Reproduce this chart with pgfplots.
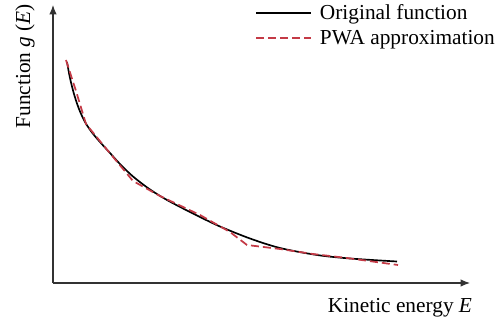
\documentclass[border=0pt]{standalone}
\usepackage{fontspec}
\setmainfont{Liberation Serif}
\usepackage{pgfplots}
\pgfplotsset{compat=1.18}
\usetikzlibrary{arrows.meta}
\definecolor{pwared}{RGB}{196,58,70}
\definecolor{axisgray}{RGB}{50,50,50}

% original function g(E), sampled
\pgfplotstableread{
x y
67 221
70 205
74 189
79 174
85 161
92 150.5
100 141
110 130
120 119
133 106.5
150 93.5
167 83
187 72.5
200 66
220 56.5
250 44.5
280 35
317 28
350 24.5
397 21.5
}\original

% piecewise approximation vertices
\pgfplotstableread{
x y
66 223
76 192
86 159
104 137
133 102
160 87
200 68
230 51
247 38
280 34
313 29
347 25
398 18
}\pwa

\begin{document}
\begin{tikzpicture}
\begin{axis}[
  scale only axis,
  width=312.75pt, height=208.5pt,
  xmin=53, xmax=470, ymin=0, ymax=278,
  axis lines=left,
  axis line style={color=axisgray, line width=0.8pt, -{Latex[length=7pt,width=5.5pt]}},
  ticks=none,
  clip=false,
  font=\fontsize{16}{19}\selectfont,
  xlabel={Kinetic energy \textit{E}},
  ylabel={Function \textit{g} (\textit{E})},
  xlabel style={at={(axis description cs:0.832,-0.09)}, anchor=center},
  ylabel style={at={(axis description cs:-0.067,0.78)}, anchor=center},
  legend style={at={(axis description cs:0.482,1.018)}, anchor=north west,
    draw=none, fill=none, font=\fontsize{16}{19}\selectfont,
    row sep=2.5pt, inner sep=1pt,
    /tikz/every odd column/.append style={column sep=4pt}},
  legend cell align=left,
  legend image code/.code={\draw[#1] (0pt,0pt) -- (41pt,0pt);},
]
\addplot[black, line width=1.25pt, smooth] table[x=x,y=y] {\original};
\addlegendentry{Original function}
\addplot[pwared, line width=1.3pt, dash pattern=on 6pt off 3pt] table[x=x,y=y] {\pwa};
\addlegendentry{PWA approximation}
\end{axis}
\pgfresetboundingbox
\path[use as bounding box] (-39.75pt,-29.25pt) rectangle (335.25pt,212.25pt);
\end{tikzpicture}
\end{document}
